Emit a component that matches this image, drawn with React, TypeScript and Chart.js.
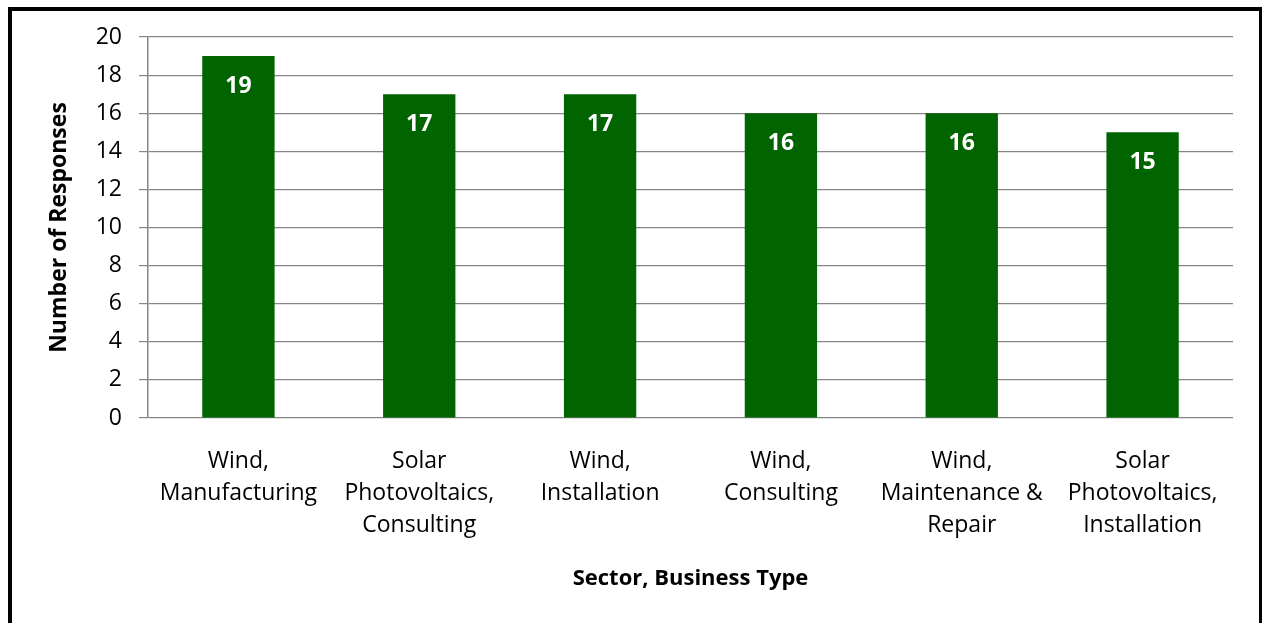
import React, { useEffect, useRef } from "react";
import { Chart, registerables } from "chart.js";

Chart.register(...registerables);

const categories: string[][] = [
  ["Wind,", "Manufacturing"],
  ["Solar", "Photovoltaics,", "Consulting"],
  ["Wind,", "Installation"],
  ["Wind,", "Consulting"],
  ["Wind,", "Maintenance &", "Repair"],
  ["Solar", "Photovoltaics,", "Installation"],
];
const responses: number[] = [19, 17, 17, 16, 16, 15];
const yTitle = "Number of Responses";
const xTitle = "Sector, Business Type";

const FONT = "'Open Sans', Lato, sans-serif";
const GRID = "#868686";
const BAR = "#006400";

const frame = {
  id: "frame",
  afterDraw(chart: any) {
    const ctx = chart.ctx;
    ctx.save();
    ctx.fillStyle = "#000";
    ctx.fillRect(8, 7, 4, 616);
    ctx.fillRect(8, 7, 1254, 4);
    ctx.fillRect(1259, 7, 3, 616);
    ctx.restore();
  },
};

const valueLabels = {
  id: "valueLabels",
  afterDatasetsDraw(chart: any) {
    const ctx = chart.ctx;
    const meta = chart.getDatasetMeta(0);
    ctx.save();
    ctx.fillStyle = "#ffffff";
    ctx.font = `bold 23px ${FONT}`;
    ctx.textAlign = "center";
    ctx.textBaseline = "middle";
    meta.data.forEach((bar: any, i: number) => {
      ctx.fillText(String(responses[i]), bar.x, bar.y + 30);
    });
    ctx.restore();
  },
};

export default function App() {
  const ref = useRef<HTMLCanvasElement>(null);
  useEffect(() => {
    document.body.style.margin = "0";
    document.body.style.overflow = "hidden";
    const chart = new Chart(ref.current as HTMLCanvasElement, {
      type: "bar",
      data: {
        labels: categories,
        datasets: [
          {
            data: responses,
            backgroundColor: BAR,
            borderWidth: 0,
            barPercentage: 0.4,
            categoryPercentage: 1,
          },
        ],
      },
      plugins: [valueLabels, frame],
      options: {
        responsive: false,
        animation: false,
        layout: { padding: { left: 12, top: 37, right: 29, bottom: 10 } },
        plugins: { legend: { display: false }, tooltip: { enabled: false } },
        scales: {
          x: {
            grid: { display: false, drawTicks: false },
            border: { display: false },
            ticks: {
              color: "#000",
              padding: 27,
              font: { family: FONT, size: 23, lineHeight: "32px" },
              maxRotation: 0,
              autoSkip: false,
            },
            title: {
              display: true,
              text: xTitle,
              color: "#000",
              font: { family: FONT, size: 22, weight: "bold", lineHeight: 1.2 },
              padding: { top: 0, bottom: 21 },
            },
            afterFit: (s: any) => {
              s.height = 195;
            },
          },
          y: {
            min: 0,
            max: 20,
            ticks: {
              stepSize: 2,
              color: "#000",
              padding: 17,
              font: { family: FONT, size: 23 },
            },
            grid: { color: GRID, lineWidth: 1.2, tickLength: 9 },
            border: { display: true, color: GRID, width: 1.5 },
            title: {
              display: true,
              text: yTitle,
              color: "#000",
              font: { family: FONT, size: 23, weight: "bold", lineHeight: 1.2 },
              padding: { top: 34, bottom: 0 },
            },
            afterFit: (s: any) => {
              s.width = 136;
            },
          },
        },
      },
    });
    return () => chart.destroy();
  }, []);
  return (
    <div style={{ width: 1262, height: 623 }}>
      <canvas ref={ref} width={1262} height={623} />
    </div>
  );
}
